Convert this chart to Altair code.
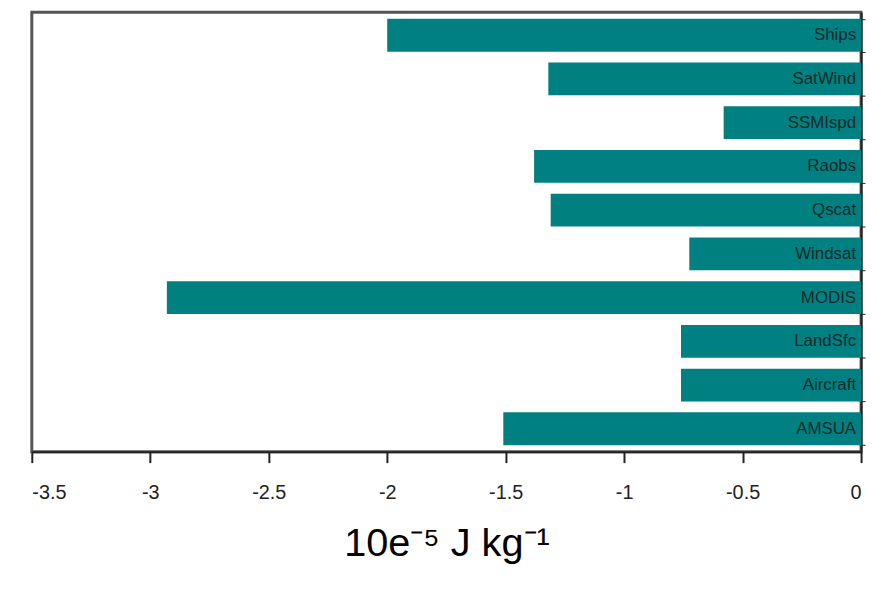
import altair as alt
import pandas as pd

categories = ["Ships", "SatWind", "SSMIspd", "Raobs", "Qscat", "Windsat", "MODIS", "LandSfc", "Aircraft", "AMSUA"]
values = [-2.0, -1.32, -0.58, -1.38, -1.31, -0.725, -2.93, -0.76, -0.76, -1.51]
x_ticks = [-3.5, -3, -2.5, -2, -1.5, -1, -0.5, 0]

df = pd.DataFrame({"obs": categories, "value": values})

font = "Liberation Sans, Arial"

y_enc = alt.Y("obs:N", sort=categories,
              scale=alt.Scale(paddingInner=0.25, paddingOuter=0.15),
              axis=alt.Axis(orient="right", labels=False, title=None, ticks=True,
                            tickBand="extent", tickSize=4, tickColor="#222",
                            domainColor="#222", domainWidth=2))
x_enc = alt.X("value:Q",
              scale=alt.Scale(domain=[-3.5, 0], nice=False, zero=False),
              axis=alt.Axis(values=x_ticks, title="10e\u207b\u2075 J kg\u207b\u00b9",
                            grid=False, tickSize=11, tickColor="#222", tickWidth=2,
                            domainColor="#222", domainWidth=2,
                            labelFont=font, labelFontSize=20, labelColor="#222",
                            labelPadding=20, labelExpr="'' + datum.value",
                            titleFont=font, titleFontSize=40, titleFontWeight="normal",
                            titleColor="#000", titlePadding=22))

bars = alt.Chart(df).mark_bar(color="#008080").encode(x=x_enc, y=y_enc)
labels = alt.Chart(df).mark_text(align="right", baseline="middle", dx=-5,
                                 font=font, fontSize=17, color="#102a2a").encode(
    x=alt.datum(0), y=alt.Y("obs:N", sort=categories), text="obs:N")

chart = alt.layer(bars, labels).properties(
    width=836, height=443,
    autosize=alt.AutoSizeParams(type="none"),
    padding={"left": 24, "top": 2, "right": 8, "bottom": 124},
).configure_view(stroke="#555", strokeWidth=3)

chart.save("out.html", embed_options={"renderer": "svg", "actions": False})
